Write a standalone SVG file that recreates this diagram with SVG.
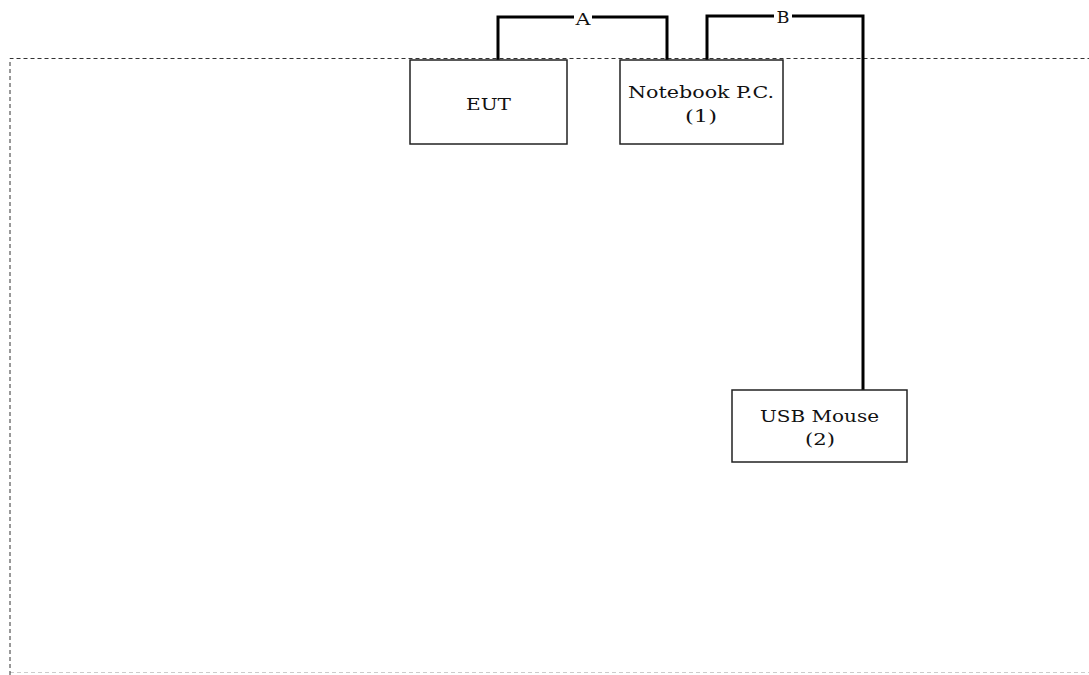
<svg xmlns="http://www.w3.org/2000/svg" width="1089" height="675" viewBox="0 0 1089 675">
<style>
.box{fill:#fff;stroke:#222;stroke-width:1.5}
.lbl{font-family:"DejaVu Serif","Liberation Serif",serif;font-size:16px;fill:#111;text-anchor:middle}
.cab{fill:none;stroke:#000;stroke-width:3}
.frame{fill:none;stroke:#333;stroke-width:1;stroke-dasharray:4,3}
</style>
<rect width="1089" height="675" fill="#fff"/>
<path class="frame" d="M10,675 V58.5 H1089"/>
<path class="frame" d="M10,672.5 H1089" stroke-opacity="0.25"/>
<g id="connectors">
<path class="cab" d="M498,60 V17 H667 V60"/>
<rect x="574" y="9" width="18" height="16" fill="#fff"/>
<text class="lbl" x="583" y="25" textLength="15" lengthAdjust="spacingAndGlyphs">A</text>
<path class="cab" d="M707,60 V16 H863 V390"/>
<rect x="774" y="8" width="18" height="16" fill="#fff"/>
<text class="lbl" x="783" y="23" textLength="13" lengthAdjust="spacingAndGlyphs">B</text>
</g>
<g id="eut">
<rect class="box" x="410" y="60" width="157" height="84"/>
<text class="lbl" x="488.5" y="110" textLength="45" lengthAdjust="spacingAndGlyphs">EUT</text>
</g>
<g id="notebook">
<rect class="box" x="620" y="60" width="163" height="84"/>
<text class="lbl" x="701" y="98" textLength="146" lengthAdjust="spacingAndGlyphs">Notebook P.C.</text>
<text class="lbl" x="701" y="122" textLength="32" lengthAdjust="spacingAndGlyphs">(1)</text>
</g>
<g id="mouse">
<rect class="box" x="732" y="390" width="175" height="72"/>
<text class="lbl" x="819.5" y="422" textLength="119" lengthAdjust="spacingAndGlyphs">USB Mouse</text>
<text class="lbl" x="820" y="445" textLength="30" lengthAdjust="spacingAndGlyphs">(2)</text>
</g>
</svg>
